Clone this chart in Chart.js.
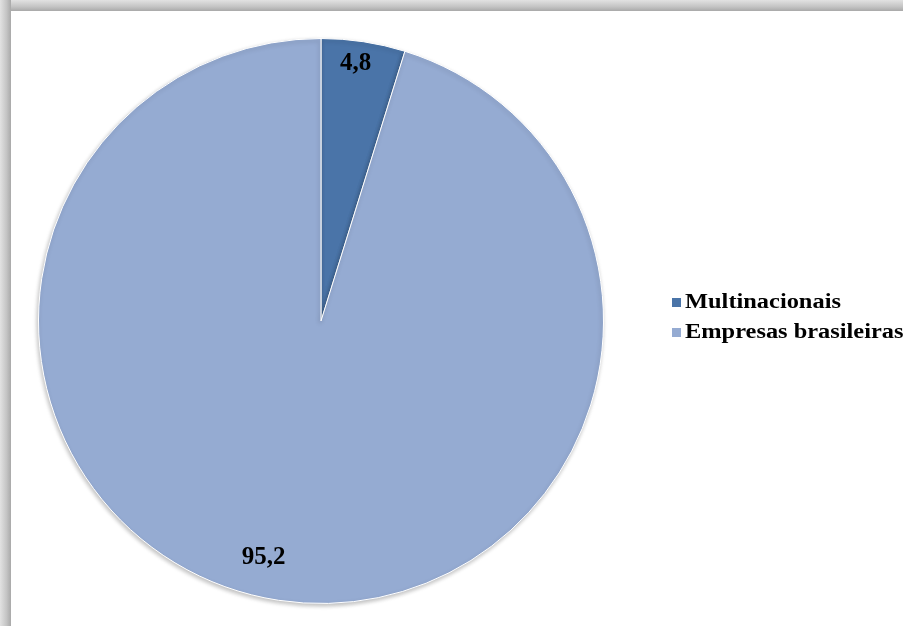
<!DOCTYPE html>
<html>
<head>
<meta charset="utf-8">
<script src="https://cdn.jsdelivr.net/npm/chart.js@4"></script>
<style>
  html, body { margin: 0; padding: 0; background: #fff; }
  #wrap { position: relative; width: 903px; height: 626px; overflow: hidden; }
  #topEdge { position: absolute; left: 0; top: 0; width: 903px; height: 11px;
    background: linear-gradient(to bottom, #e2e2e2, #c4c4c4 60%, #a9a9a9); }
  #leftEdge { position: absolute; left: 0; top: 0; width: 11px; height: 626px;
    background: linear-gradient(to right, #e2e2e2, #c4c4c4 60%, #a9a9a9); }
  canvas { position: absolute; left: 0; top: 0; }
</style>
</head>
<body>
<div id="wrap">
  <canvas id="pieChart" width="903" height="626"></canvas>
  <div id="topEdge"></div>
  <div id="leftEdge"></div>
</div>
<script>
// dados do gráfico
const labels = ["Multinacionais", "Empresas brasileiras"];
const values = [4.8, 95.2];
const valueLabels = ["4,8", "95,2"];
const colors = ["#4a74a8", "#95abd2"];

// posição dos rótulos (fração do raio, ajuste de ângulo em graus)
const labelPlace = [{ r: 0.92, da: -1 }, { r: 0.86, da: 5 }];

// rótulos dentro das fatias
const sliceLabels = {
    id: "sliceLabels",
    afterDatasetsDraw(chart) {
        const ctx = chart.ctx;
        const meta = chart.getDatasetMeta(0);
        ctx.save();
        ctx.font = "bold 25px 'Liberation Serif', 'Times New Roman', serif";
        ctx.fillStyle = "#000";
        ctx.textAlign = "center";
        ctx.textBaseline = "middle";
        meta.data.forEach((arc, i) => {
            const mid = (arc.startAngle + arc.endAngle) / 2 + labelPlace[i].da * Math.PI / 180;
            const r = arc.outerRadius * labelPlace[i].r;
            const x = arc.x + Math.cos(mid) * r;
            const y = arc.y + Math.sin(mid) * r;
            ctx.fillText(valueLabels[i], x, y);
        });
        ctx.restore();
    }
};

// legenda à direita
const sideLegend = {
    id: "sideLegend",
    afterDraw(chart) {
        const ctx = chart.ctx;
        labels.forEach((lab, i) => {
            const y = 303 + i * 30;
            ctx.save();
            ctx.fillStyle = colors[i];
            ctx.fillRect(672, y - 5, 9, 9);
            ctx.translate(685, y);
            ctx.scale(1.22, 1);
            ctx.font = "bold 20px 'Liberation Serif', 'Times New Roman', serif";
            ctx.textBaseline = "middle";
            ctx.fillStyle = "#000";
            ctx.fillText(lab, 0, 0);
            ctx.restore();
        });
    }
};

// sombra leve da pizza
const pieShadow = {
    id: "pieShadow",
    beforeDatasetsDraw(chart) {
        chart.ctx.save();
        chart.ctx.shadowColor = "rgba(0,0,0,0.25)";
        chart.ctx.shadowBlur = 4;
        chart.ctx.shadowOffsetX = -1;
        chart.ctx.shadowOffsetY = 2;
    },
    afterDatasetsDraw(chart) {
        chart.ctx.restore();
    }
};

new Chart(document.getElementById("pieChart"), {
    type: "pie",
    data: {
        labels: labels,
        datasets: [{
            data: values,
            backgroundColor: colors,
            borderColor: "#ffffff",
            borderWidth: 1
        }]
    },
    options: {
        responsive: false,
        animation: false,
        layout: { padding: { left: 37, top: 38, right: 298, bottom: 22 } },
        plugins: {
            legend: { display: false },
            tooltip: { enabled: false }
        }
    },
    plugins: [pieShadow, sliceLabels, sideLegend]
});
</script>
</body>
</html>
